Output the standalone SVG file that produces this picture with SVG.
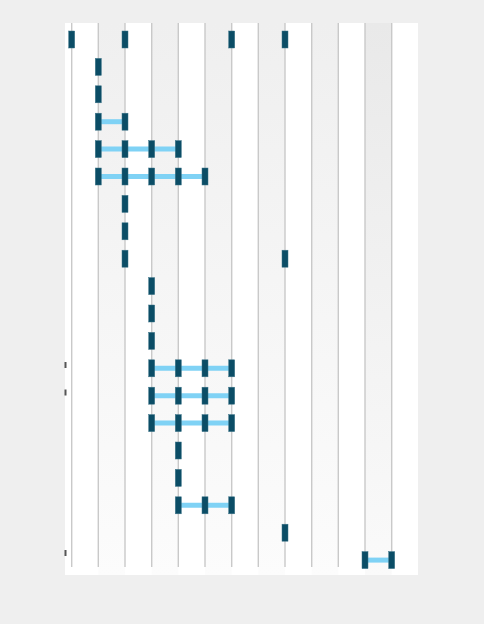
<svg xmlns="http://www.w3.org/2000/svg" width="484" height="624" viewBox="0 0 484 624">
<style>
.grid{stroke:#c9c9c9;stroke-width:1.4}
.m{fill:#0b4d66;stroke:#3d7488;stroke-width:0.5}
.c{stroke:#7fd2f5;stroke-width:5}
.tick{fill:#555}
</style>
<defs>
<linearGradient id="gb" x1="0" y1="0" x2="0" y2="1">
<stop offset="0" stop-color="#efefef"/>
<stop offset="1" stop-color="#fcfcfc"/>
</linearGradient>
<linearGradient id="gd" x1="0" y1="0" x2="0" y2="1">
<stop offset="0" stop-color="#e9e9e9"/>
<stop offset="1" stop-color="#fafafa"/>
</linearGradient>
</defs>
<rect width="484" height="624" fill="#efefef"/>
<g id="panel">
<rect x="65" y="23" width="353" height="552" fill="#ffffff"/>
<rect x="98.3" y="23" width="26.7" height="552" fill="url(#gb)"/>
<rect x="151.7" y="23" width="26.7" height="552" fill="url(#gb)"/>
<rect x="205" y="23" width="26.7" height="552" fill="url(#gb)"/>
<rect x="258.3" y="23" width="26.7" height="552" fill="url(#gb)"/>
<rect x="311.7" y="23" width="26.7" height="552" fill="url(#gb)"/>
<rect x="365" y="23" width="26.7" height="552" fill="url(#gd)"/>
</g>
<g id="gridlines">
<line class="grid" x1="71.7" y1="23" x2="71.7" y2="567"/>
<line class="grid" x1="98.3" y1="23" x2="98.3" y2="567"/>
<line class="grid" x1="125" y1="23" x2="125" y2="567"/>
<line class="grid" x1="151.7" y1="23" x2="151.7" y2="567"/>
<line class="grid" x1="178.3" y1="23" x2="178.3" y2="567"/>
<line class="grid" x1="205" y1="23" x2="205" y2="567"/>
<line class="grid" x1="231.7" y1="23" x2="231.7" y2="567"/>
<line class="grid" x1="258.3" y1="23" x2="258.3" y2="567"/>
<line class="grid" x1="285" y1="23" x2="285" y2="567"/>
<line class="grid" x1="311.7" y1="23" x2="311.7" y2="567"/>
<line class="grid" x1="338.3" y1="23" x2="338.3" y2="567"/>
<line class="grid" x1="365" y1="23" x2="365" y2="567"/>
<line class="grid" x1="391.7" y1="23" x2="391.7" y2="567"/>
</g>
<g id="ticks">
<rect class="tick" x="64.5" y="362" width="2" height="6"/>
<rect class="tick" x="64.5" y="389.5" width="2" height="6"/>
<rect class="tick" x="64.5" y="550" width="2" height="6"/>
</g>
<g id="connectors">
<line class="c" x1="98.3" y1="121.7" x2="125" y2="121.7"/>
<line class="c" x1="98.3" y1="149.1" x2="178.3" y2="149.1"/>
<line class="c" x1="98.3" y1="176.5" x2="205" y2="176.5"/>
<line class="c" x1="151.7" y1="368.3" x2="231.7" y2="368.3"/>
<line class="c" x1="151.7" y1="395.7" x2="231.7" y2="395.7"/>
<line class="c" x1="151.7" y1="423.1" x2="231.7" y2="423.1"/>
<line class="c" x1="178.3" y1="505.3" x2="231.7" y2="505.3"/>
<line class="c" x1="365" y1="560.1" x2="391.7" y2="560.1"/>
</g>
<g id="row1"><rect class="m" x="68.7" y="31" width="6" height="17"/><rect class="m" x="122" y="31" width="6" height="17"/><rect class="m" x="228.7" y="31" width="6" height="17"/><rect class="m" x="282" y="31" width="6" height="17"/></g>
<g id="row2"><rect class="m" x="95.3" y="58.4" width="6" height="17"/></g>
<g id="row3"><rect class="m" x="95.3" y="85.8" width="6" height="17"/></g>
<g id="row4"><rect class="m" x="95.3" y="113.2" width="6" height="17"/><rect class="m" x="122" y="113.2" width="6" height="17"/></g>
<g id="row5"><rect class="m" x="95.3" y="140.6" width="6" height="17"/><rect class="m" x="122" y="140.6" width="6" height="17"/><rect class="m" x="148.7" y="140.6" width="6" height="17"/><rect class="m" x="175.3" y="140.6" width="6" height="17"/></g>
<g id="row6"><rect class="m" x="95.3" y="168" width="6" height="17"/><rect class="m" x="122" y="168" width="6" height="17"/><rect class="m" x="148.7" y="168" width="6" height="17"/><rect class="m" x="175.3" y="168" width="6" height="17"/><rect class="m" x="202" y="168" width="6" height="17"/></g>
<g id="row7"><rect class="m" x="122" y="195.4" width="6" height="17"/></g>
<g id="row8"><rect class="m" x="122" y="222.8" width="6" height="17"/></g>
<g id="row9"><rect class="m" x="122" y="250.2" width="6" height="17"/><rect class="m" x="282" y="250.2" width="6" height="17"/></g>
<g id="row10"><rect class="m" x="148.7" y="277.6" width="6" height="17"/></g>
<g id="row11"><rect class="m" x="148.7" y="305" width="6" height="17"/></g>
<g id="row12"><rect class="m" x="148.7" y="332.4" width="6" height="17"/></g>
<g id="row13"><rect class="m" x="148.7" y="359.8" width="6" height="17"/><rect class="m" x="175.3" y="359.8" width="6" height="17"/><rect class="m" x="202" y="359.8" width="6" height="17"/><rect class="m" x="228.7" y="359.8" width="6" height="17"/></g>
<g id="row14"><rect class="m" x="148.7" y="387.2" width="6" height="17"/><rect class="m" x="175.3" y="387.2" width="6" height="17"/><rect class="m" x="202" y="387.2" width="6" height="17"/><rect class="m" x="228.7" y="387.2" width="6" height="17"/></g>
<g id="row15"><rect class="m" x="148.7" y="414.6" width="6" height="17"/><rect class="m" x="175.3" y="414.6" width="6" height="17"/><rect class="m" x="202" y="414.6" width="6" height="17"/><rect class="m" x="228.7" y="414.6" width="6" height="17"/></g>
<g id="row16"><rect class="m" x="175.3" y="442" width="6" height="17"/></g>
<g id="row17"><rect class="m" x="175.3" y="469.4" width="6" height="17"/></g>
<g id="row18"><rect class="m" x="175.3" y="496.8" width="6" height="17"/><rect class="m" x="202" y="496.8" width="6" height="17"/><rect class="m" x="228.7" y="496.8" width="6" height="17"/></g>
<g id="row19"><rect class="m" x="282" y="524.2" width="6" height="17"/></g>
<g id="row20"><rect class="m" x="362" y="551.6" width="6" height="17"/><rect class="m" x="388.7" y="551.6" width="6" height="17"/></g>
</svg>
